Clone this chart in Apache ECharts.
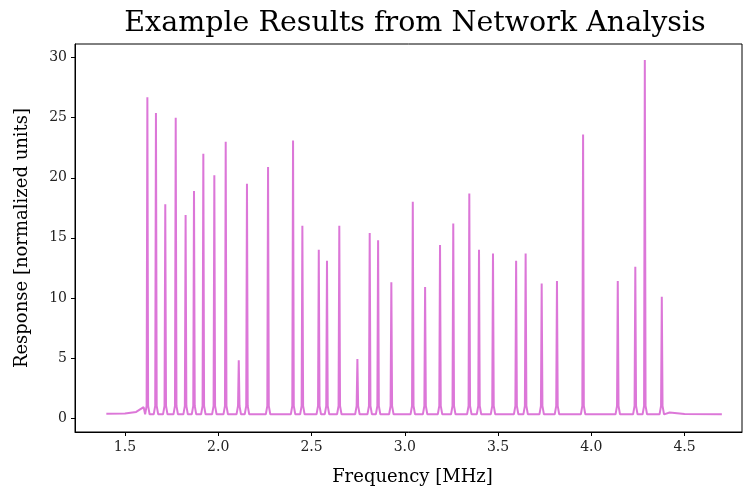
<!DOCTYPE html>
<html>
<head>
<meta charset="utf-8">
<script src="https://cdn.jsdelivr.net/npm/echarts@6/dist/echarts.min.js"></script>
<style>html,body{margin:0;padding:0;background:#fff}#c{width:743px;height:493px}</style>
</head>
<body>
<div id="c"></div>
<script>
// Resonance peaks (MHz, normalized units)
const peakFreq = [1.620, 1.666, 1.716, 1.772, 1.825, 1.870, 1.920, 1.979, 2.040, 2.110, 2.154, 2.267,
  2.401, 2.451, 2.539, 2.583, 2.649, 2.746, 2.812, 2.857, 2.928, 3.043, 3.109, 3.189,
  3.260, 3.346, 3.398, 3.473, 3.597, 3.648, 3.734, 3.816, 3.956, 4.142, 4.236, 4.287, 4.378];
const peakHeight = [26.7, 25.4, 17.8, 25.0, 16.9, 18.9, 22.0, 20.2, 23.0, 4.8, 19.5, 20.9,
  23.1, 16.0, 14.0, 13.1, 16.0, 4.9, 15.4, 14.8, 11.3, 18.0, 10.9, 14.4,
  16.2, 18.7, 14.0, 13.7, 13.1, 13.7, 11.2, 11.4, 23.6, 11.4, 12.6, 29.8, 10.1];
// Baseline level between/outside peaks
const baseFreq = [1.40, 1.50, 1.56, 1.60, 4.42, 4.50, 4.70];
const baseVal  = [0.35, 0.38, 0.50, 0.90, 0.45, 0.33, 0.30];
const footLevel = 0.30;
const xTicks = [1.5, 2.0, 2.5, 3.0, 3.5, 4.0, 4.5];
const yTicks = [0, 5, 10, 15, 20, 25, 30];

const pts = [];
baseFreq.forEach((f, i) => pts.push([f, baseVal[i]]));
peakFreq.forEach((f, i) => {
  pts.push([f - 0.012, footLevel]);
  pts.push([f - 0.004, 1.0]);
  pts.push([f, peakHeight[i]]);
  pts.push([f + 0.004, 1.0]);
  pts.push([f + 0.012, footLevel]);
});
pts.sort((a, b) => a[0] - b[0]);

const serif = "'DejaVu Serif', 'Liberation Serif', serif";
const chart = echarts.init(document.getElementById('c'), null, {renderer: 'canvas'});
chart.setOption({
  animation: false,
  backgroundColor: '#fff',
  title: {
    text: 'Example Results from Network Analysis',
    left: 410, top: 4, textAlign: 'center',
    textStyle: {fontFamily: serif, fontSize: 28.5, fontWeight: 'normal', color: '#000'}
  },
  grid: {left: 75, top: 44, right: 1, bottom: 61, show: true, borderColor: '#000', borderWidth: 1, backgroundColor: 'transparent'},
  xAxis: {
    type: 'value', min: 1.232, max: 4.808,
    name: 'Frequency [MHz]', nameLocation: 'middle', nameGap: 36,
    nameTextStyle: {fontFamily: serif, fontSize: 18, color: '#000', padding: [0, 0, 0, 8]},
    axisLine: {show: true, onZero: false, lineStyle: {color: '#000', width: 1}},
    axisTick: {show: true, length: 4, lineStyle: {color: '#000'}, customValues: xTicks},
    axisLabel: {show: true, customValues: xTicks, formatter: v => v.toFixed(1), fontFamily: serif, fontSize: 14, color: '#222', margin: 8},
    splitLine: {show: false}
  },
  yAxis: {
    type: 'value', min: -1.17, max: 31.14,
    name: 'Response [normalized units]', nameLocation: 'middle', nameGap: 44, nameRotate: 90,
    nameTextStyle: {fontFamily: serif, fontSize: 18, color: '#000'},
    axisLine: {show: true, onZero: false, lineStyle: {color: '#000', width: 1}},
    axisTick: {show: true, length: 4, lineStyle: {color: '#000'}, customValues: yTicks},
    axisLabel: {show: true, customValues: yTicks, fontFamily: serif, fontSize: 14, color: '#222', margin: 8},
    splitLine: {show: false}
  },
  series: [{
    type: 'line', data: pts, showSymbol: false, symbol: 'none',
    lineStyle: {color: '#DA70D6', width: 2, opacity: 0.95},
    clip: true
  }]
});
</script>
</body>
</html>
